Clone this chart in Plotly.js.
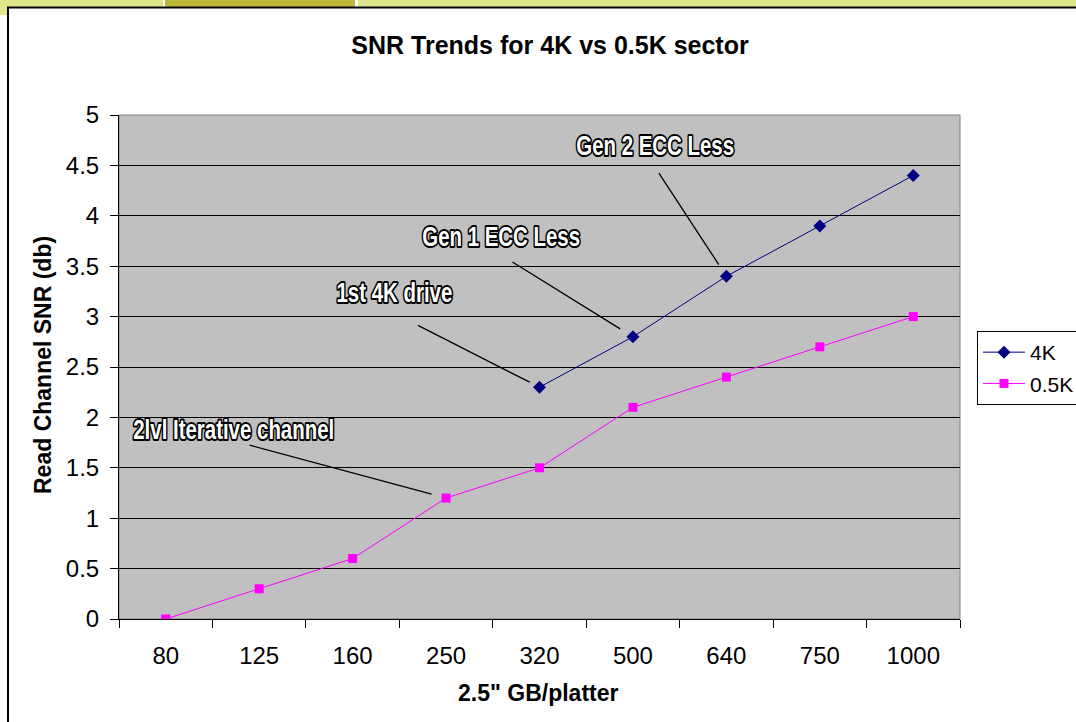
<!DOCTYPE html>
<html>
<head>
<meta charset="utf-8">
<script src="https://cdn.plot.ly/plotly-3.0.1.min.js"></script>
<style>
html,body{margin:0;padding:0;background:#fff;overflow:hidden;}
#chart{width:1076px;height:722px;}
</style>
</head>
<body>
<div id="chart"></div>
<script>
// ---- data ----
const categories = ["80", "125", "160", "250", "320", "500", "640", "750", "1000"];
const snr4K = [null, null, null, null, 2.3, 2.8, 3.4, 3.9, 4.4];
const snr05K = [0, 0.3, 0.6, 1.2, 1.5, 2.1, 2.4, 2.7, 3.0];
const seriesNames = ["4K", "0.5K"];
const yTicks = [0, 0.5, 1, 1.5, 2, 2.5, 3, 3.5, 4, 4.5, 5];
const yTickText = ["0", "0.5", "1", "1.5", "2", "2.5", "3", "3.5", "4", "4.5", "5"];
const callouts = [
  {text: "1st 4K drive", cat: "320", series: snr4K},
  {text: "Gen 1 ECC Less", cat: "500", series: snr4K},
  {text: "Gen 2 ECC Less", cat: "640", series: snr4K},
  {text: "2lvl Iterative channel", cat: "250", series: snr05K}
];

// ---- layout geometry (pixels) ----
const W = 1076, H = 722;
const L = 119, R = 960, T = 115, B = 619;
const pw = R - L, ph = B - T;
const px = v => (v - L) / pw;          // page px -> paper x
const py = v => (B - v) / ph;          // page py -> paper y

const FONT = "Liberation Sans, Arial, sans-serif";
const CALLOUT_FONT = "Liberation Sans, Arial, sans-serif";

const traces = [
  {x: categories, y: snr4K, name: seriesNames[0], type: "scatter", mode: "lines+markers",
   legendgroup: "a",
   line: {color: "#000080", width: 1}, marker: {symbol: "diamond", size: 10, color: "#000080"},
   connectgaps: false},
  {x: categories, y: snr05K, name: seriesNames[1], type: "scatter", mode: "lines+markers",
   legendgroup: "b",
   line: {color: "#FF00FF", width: 1}, marker: {symbol: "square", size: 9, color: "#FF00FF"}}
];

// arrow geometry relative to the pointed data point: [ax, ay, standoff]
const arrowGeom = [[-122, -62, 11], [-121, -75, 15], [-68, -104, 14], [-197, -53, 15]];
// label centers (page pixels)
const labelPos = [[394, 292], [501, 236], [655, 145], [233, 429]];

const annotations = [];
callouts.forEach((c, i) => {
  const idx = categories.indexOf(c.cat);
  annotations.push({
    x: idx, y: c.series[idx], xref: "x", yref: "y", text: " ",
    font: {size: 1}, borderpad: 0,
    showarrow: true, arrowhead: 0, arrowwidth: 1.3, arrowcolor: "#000",
    ax: arrowGeom[i][0], ay: arrowGeom[i][1], standoff: arrowGeom[i][2]
  });
  annotations.push({
    x: px(labelPos[i][0]), y: py(labelPos[i][1]), xref: "paper", yref: "paper",
    text: "<b>" + c.text + "</b>", showarrow: false, xanchor: "center", yanchor: "middle",
    font: {family: CALLOUT_FONT, size: 28, color: "#ffffff"}
  });
});
// axis titles
annotations.push({x: px(538), y: py(693), xref: "paper", yref: "paper", showarrow: false,
  text: "<b>2.5\" GB/platter</b>", font: {family: FONT, size: 23, color: "#000"},
  xanchor: "center", yanchor: "middle"});
annotations.push({x: px(43), y: py(365), xref: "paper", yref: "paper", showarrow: false,
  text: "<b>Read Channel SNR (db)</b>", textangle: -90,
  font: {family: FONT, size: 23, color: "#000"},
  xanchor: "center", yanchor: "middle"});

const shapes = [
  // slide strip at top
  {type: "rect", xref: "paper", yref: "paper", x0: px(0), x1: px(163), y0: py(7), y1: py(0), fillcolor: "#E1E78C", line: {width: 0}, layer: "below"},
  {type: "rect", xref: "paper", yref: "paper", x0: px(165), x1: px(355), y0: py(7), y1: py(0), fillcolor: "#BDB83A", line: {width: 0}, layer: "below"},
  {type: "rect", xref: "paper", yref: "paper", x0: px(358), x1: px(1076), y0: py(7), y1: py(0), fillcolor: "#E1E78C", line: {width: 0}, layer: "below"},
  {type: "rect", xref: "paper", yref: "paper", x0: px(0), x1: px(7), y0: py(15), y1: py(0), fillcolor: "#E1E78C", line: {width: 0}, layer: "below"},
  // chart area border
  {type: "rect", xref: "paper", yref: "paper", x0: px(8), x1: px(1090), y0: py(740), y1: py(7.5), fillcolor: "rgba(0,0,0,0)", line: {color: "#000", width: 2}, layer: "above"},
  // plot area border (gray)
  {type: "rect", xref: "paper", yref: "paper", x0: 0, x1: 1, y0: 0, y1: 1, fillcolor: "rgba(0,0,0,0)", line: {color: "#808080", width: 1}, layer: "below"}
];

const layout = {
  width: W, height: H,
  margin: {l: L, r: W - R, t: T, b: H - B, pad: 0, autoexpand: false},
  paper_bgcolor: "#ffffff", plot_bgcolor: "#C0C0C0",
  font: {family: FONT, color: "#000"},
  title: {text: "<b>SNR Trends for 4K vs 0.5K sector</b>", x: 550 / W, xanchor: "center",
    y: 1 - 45 / H, yanchor: "middle", font: {family: FONT, size: 25, color: "#000"}},
  showlegend: true,
  legend: {x: px(977), y: py(331), xanchor: "left", yanchor: "top",
    bordercolor: "#000", borderwidth: 1, bgcolor: "#fff",
    traceorder: "grouped", tracegroupgap: 1,
    font: {family: FONT, size: 21, color: "#000"}},
  xaxis: {type: "category", categoryorder: "array", categoryarray: categories,
    range: [-0.5, categories.length - 0.5],
    showgrid: false, zeroline: false, showline: true, linecolor: "#000", linewidth: 1,
    ticks: "outside", tickson: "boundaries", ticklen: 8, tickcolor: "#000", tickwidth: 1,
    ticklabelstandoff: 15, tickfont: {family: FONT, size: 24, color: "#000"}, fixedrange: true},
  yaxis: {range: [0, 5], tickvals: yTicks, ticktext: yTickText,
    showgrid: true, gridcolor: "#000", gridwidth: 1, zeroline: false,
    showline: true, linecolor: "#000", linewidth: 1,
    ticks: "outside", ticklen: 8, tickcolor: "#000", tickwidth: 1,
    ticklabelstandoff: 6, tickfont: {family: FONT, size: 24, color: "#000"}, fixedrange: true},
  shapes: shapes,
  annotations: annotations
};

Plotly.newPlot("chart", traces, layout, {staticPlot: true, displayModeBar: false}).then(() => {
  const labels = new Set(callouts.map(c => c.text));
  document.querySelectorAll(".annotation-text").forEach(el => {
    if (labels.has(el.textContent)) {
      el.style.stroke = "#000";
      el.style.strokeWidth = "4px";
      el.style.strokeLinejoin = "round";
      el.style.paintOrder = "stroke";
      el.style.transformBox = "fill-box";
      el.style.transformOrigin = "center";
      el.style.transform = "scaleX(0.73)";
    }
  });
  // Excel-like legend: longer line samples, box running off the right edge
  document.querySelectorAll(".legend .traces").forEach(tr => {
    tr.querySelectorAll("path.js-line").forEach(p => p.setAttribute("d", "M5,0h42"));
    tr.querySelectorAll("path.scatterpts").forEach(g => g.setAttribute("transform", "translate(26,0)"));
    tr.querySelectorAll("text.legendtext").forEach(t => t.setAttribute("x", "52"));
  });
  document.querySelectorAll(".legend rect").forEach(r => {
    if (!r.classList.contains("legendtoggle")) r.setAttribute("width", "300");
  });
  document.querySelectorAll("clipPath rect").forEach(r => {
    const cp = r.parentNode;
    if (cp.id && cp.id.indexOf("legend") >= 0) r.setAttribute("width", "300");
  });
});
</script>
</body>
</html>
